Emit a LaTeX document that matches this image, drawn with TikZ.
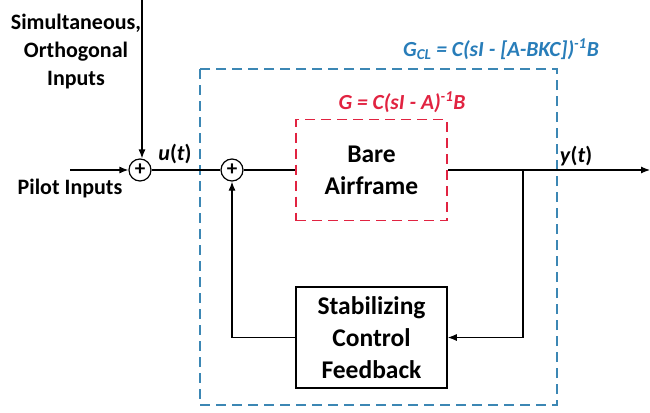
\documentclass[tikz,border=0pt]{standalone}
\usepackage{fontspec}
\setmainfont{Carlito}
\usetikzlibrary{arrows.meta}
\definecolor{loopBlue}{RGB}{40,125,185}
\definecolor{plantRed}{RGB}{225,35,65}
\definecolor{dashBlue}{RGB}{60,135,180}

\tikzset{
  sumnode/.style={draw, circle, line width=1.2pt, minimum size=22pt, inner sep=0pt,
    font=\fontsize{21}{21}\selectfont\bfseries},
  blockbox/.style={minimum width=151pt, minimum height=101pt, align=center,
    line width=1.5pt, font=\fontsize{25.5}{32}\selectfont\bfseries},
  lbl/.style={align=center, font=\fontsize{22}{28}\selectfont\bfseries},
  eqn/.style={font=\fontsize{21.5}{24}\selectfont\bfseries\itshape},
  sig/.style={line width=1.2pt, -{Latex[length=9pt,width=7pt]}},
  wire/.style={line width=1.2pt}
}

\begin{document}
\begin{tikzpicture}[x=1pt,y=-1pt]
  \useasboundingbox (0,0) rectangle (650,412);

  % closed loop boundary
  \draw[dashBlue, line width=1.6pt, dash pattern=on 10pt off 6pt] (200,69) rectangle (557,405);

  \node[sumnode] (sumA) at (140,170) {+};
  \node[sumnode] (sumB) at (232,170) {+};
  \node[blockbox, draw=plantRed, dash pattern=on 10pt off 6pt] (plant) at (371.5,170) {Bare\\Airframe};
  \node[blockbox, draw] (ctrl) at (371.5,337.5) {Stabilizing\\Control\\Feedback};

  \coordinate (orthIn) at (142,0);
  \coordinate (pilotIn) at (70,170);
  \coordinate (branch) at (523,170);
  \coordinate (yOut) at (650,170);

  \draw[sig] (orthIn) -- (orthIn |- sumA.north);
  \draw[sig] (pilotIn) -- (sumA);
  \draw[wire] (sumA) -- (sumB);
  \draw[wire] (sumB) -- (plant);
  \draw[sig] (plant) -- (yOut);
  \draw[sig] (branch) |- (ctrl);
  \draw[sig] (ctrl) -| (sumB);

  % labels
  \node[lbl] (orthLbl) at (76,52) {Simultaneous,\\Orthogonal\\Inputs};
  \node[lbl] (pilotLbl) at (70,189) {Pilot Inputs};
  \node[lbl] (uLbl) at (175,154) {\textit{u}(\textit{t})};
  \node[lbl] (yLbl) at (576,156) {\textit{y}(\textit{t})};
  \node[eqn, text=plantRed] (gLbl) at (402,102) {G = C(sI - A)\textsuperscript{-1}B};
  \node[eqn, text=loopBlue] (gclLbl) at (501,49) {G\textsubscript{CL} = C(sI - [A-BKC])\textsuperscript{-1}B};
\end{tikzpicture}
\end{document}
